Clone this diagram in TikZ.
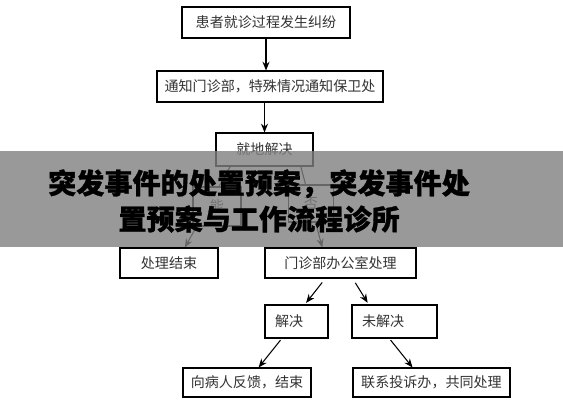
\documentclass[tikz,border=0pt]{standalone}
\usepackage{fontspec}
\usepackage{tikz}
\usetikzlibrary{arrows.meta, calc}
\newfontfamily\cjk{Noto Sans CJK SC}
\newfontfamily\cjktitle[FakeBold=1]{Noto Sans CJK SC Black}
\definecolor{txtgray}{HTML}{333333}

\begin{document}
\begin{tikzpicture}[x=0.02cm, y=-0.02cm,
      box/.style={rectangle, draw, line width=0.6pt, fill=white, font=\cjk\fontsize{8pt}{10pt}\selectfont, text=txtgray, text centered, inner sep=0pt},
      arrow/.style={-{Stealth[length=5pt, width=4pt]}, line width=0.6pt},
    ]
      \useasboundingbox (0,0) rectangle (563,400);

      \node[box, minimum width=3.36cm, minimum height=0.62cm] (dispute) at (266,22.5) {患者就诊过程发生纠纷};
      \node[box, minimum width=4.52cm, minimum height=0.62cm] (notify) at (270,86.5) {通知门诊部，特殊情况通知保卫处};
      \node[box, minimum width=1.94cm, minimum height=0.66cm] (local) at (264.5,149.5) {就地解决};
      \node[box, minimum width=1.96cm, minimum height=0.6cm] (done) at (169,263) {处理结束};
      \node[box, minimum width=3.02cm, minimum height=0.6cm] (office) at (340.5,263) {门诊部办公室处理};
      \node[box, minimum height=0.66cm, text width=0.86cm, inner xsep=0.2cm, align=left] (solved) at (296.5,321.5) {解决};
      \node[box, minimum height=0.66cm, text width=1.3cm, inner xsep=0.2cm, align=left] (unsolved) at (394.5,321.5) {未解决};
      \node[box, minimum width=2.56cm, minimum height=0.58cm] (feedback) at (247,382.5) {向病人反馈，结束};
      \node[box, minimum width=3.14cm, minimum height=0.58cm] (complain) at (431.5,382.5) {联系投诉办，共同处理};

      \draw[arrow] (dispute.south) -- (dispute.south |- notify.north);
      \draw[arrow] (local.north |- notify.south) -- (local.north);

      % yes / no branches
      \draw[arrow] ($(local.south west)!0.15!(local.south east)$) -- ($(done.north west)!0.66!(done.north east)$);
      \draw[arrow] ($(local.south west)!0.87!(local.south east)$) -- ($(office.north west)!0.38!(office.north east)$);
      \node[box, minimum width=0.96cm, minimum height=0.78cm] (yes) at (217,206.5) {能};
      \node[box, minimum width=0.9cm, minimum height=0.74cm] (no) at (311,203.5) {否};

      \draw[arrow, shorten <=0.1cm, shorten >=0.04cm] ($(office.south west)!0.4!(office.south east)$) -- ($(solved.north west)!0.63!(solved.north east)$);
      \draw[arrow, shorten <=0.1cm, shorten >=0.04cm] ($(office.south west)!0.58!(office.south east)$) -- ($(unsolved.north west)!0.2!(unsolved.north east)$);
      \draw[arrow, shorten <=0.04cm] ($(solved.south west)!0.27!(solved.south east)$) -- ($(feedback.north west)!0.59!(feedback.north east)$);
      \draw[arrow, shorten <=0.04cm] ($(unsolved.south west)!0.44!(unsolved.south east)$) -- ($(complain.north west)!0.38!(complain.north east)$);

      % title banner
      \fill[black!50, opacity=0.8] (0,151) rectangle (563,247);
      \node[font=\cjktitle\fontsize{16pt}{20.5pt}\selectfont, align=center, inner sep=0pt] (title) at (259,201) {突发事件的处置预案，突发事件处\\置预案与工作流程诊所};
    \end{tikzpicture}
\end{document}
